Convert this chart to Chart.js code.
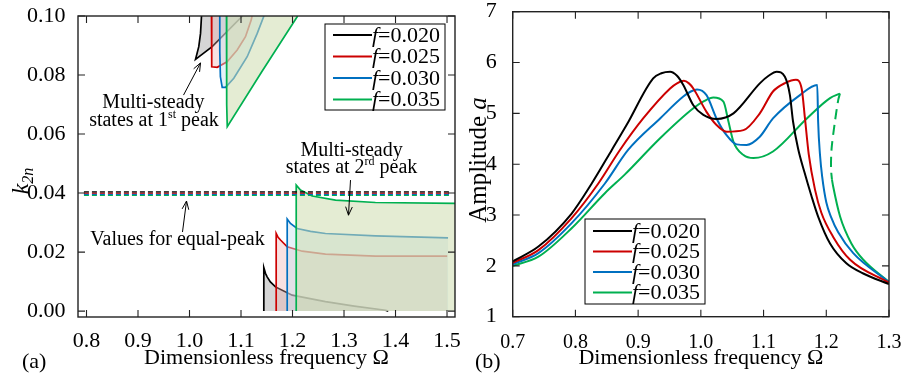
<!DOCTYPE html>
<html>
<head>
<meta charset="utf-8">
<script src="https://cdn.jsdelivr.net/npm/chart.js@4.4.1/dist/chart.umd.min.js"></script>
<style>
  html, body { margin: 0; padding: 0; background: #fff; }
  #wrap { position: relative; width: 902px; height: 380px; overflow: hidden; }
  #boxA { position: absolute; left: 0; top: 0; width: 470px; height: 380px; }
  #boxB { position: absolute; left: 460px; top: 0; width: 442px; height: 380px; }
</style>
</head>
<body>
<div id="wrap">
  <div id="boxA"><canvas id="chartA" width="470" height="380"></canvas></div>
  <div id="boxB"><canvas id="chartB" width="442" height="380"></canvas></div>
</div>
<script>
const fLabels = ["0.020", "0.025", "0.030", "0.035"];
const lineColors = ["#000000", "#cc0000", "#0070c0", "#00b050"];
const shadeColors = ["rgba(150,150,150,0.4)", "rgba(235,170,170,0.35)", "rgba(200,225,240,0.45)", "rgba(205,220,175,0.55)"];

// ---------- (a) k2n vs frequency ----------
const omegaTicksA = [0.8, 0.9, 1.0, 1.1, 1.2, 1.3, 1.4, 1.5];
const kTicks = [0.00, 0.02, 0.04, 0.06, 0.08, 0.10];

// multi-steady region at 1st peak: left edge down to the tip, then lower branch up to k=0.10
const p1Omega020 = [1.0233, 1.0214, 1.0180, 1.0117, 1.0440, 1.1030];
const p1K020     = [0.1000, 0.0941, 0.0896, 0.0853, 0.0896, 0.1000];
const p1Omega025 = [1.0427, 1.0428, 1.0435, 1.0538, 1.0730, 1.0926, 1.1087, 1.1198, 1.1215];
const p1K025     = [0.1000, 0.0850, 0.0828, 0.0826, 0.0845, 0.0885, 0.0930, 0.0986, 0.1000];
const p1Omega030 = [1.0588, 1.0588, 1.0600, 1.0635, 1.0700, 1.0860, 1.1120, 1.1315, 1.1445];
const p1K030     = [0.1000, 0.0880, 0.0794, 0.0758, 0.0758, 0.0789, 0.0862, 0.0941, 0.1000];
const p1Omega035 = [1.0718, 1.0722, 1.0733, 1.1400, 1.2100];
const p1K035     = [0.1000, 0.0700, 0.0625, 0.0810, 0.1000];

// multi-steady region at 2nd peak: vertical edge from k=0, then the upper branch
const p2Omega020 = [1.1443, 1.1443, 1.1475, 1.1508, 1.1570, 1.1670, 1.1994, 1.2640, 1.3200, 1.3806, 1.3860];
const p2K020     = [0.0000, 0.0147, 0.0128, 0.0116, 0.0099, 0.0082, 0.0054, 0.0032, 0.0017, 0.0003, 0.0000];
const p2Omega025 = [1.1683, 1.1683, 1.1720, 1.1767, 1.1897, 1.2188, 1.2640, 1.3610, 1.5004];
const p2K025     = [0.0000, 0.0263, 0.0250, 0.0241, 0.0218, 0.0203, 0.0193, 0.0186, 0.0186];
const p2Omega030 = [1.1897, 1.1897, 1.1960, 1.2090, 1.2350, 1.2640, 1.3610, 1.5020];
const p2K030     = [0.0000, 0.0312, 0.0297, 0.0280, 0.0270, 0.0263, 0.0255, 0.0248];
const p2Omega035 = [1.2072, 1.2072, 1.2155, 1.2382, 1.2835, 1.3610, 1.5155];
const p2K035     = [0.0000, 0.0427, 0.0410, 0.0390, 0.0376, 0.0368, 0.0365];

// equal-peak values (dashed)
const equalPeakOmega = [0.795, 1.505];
const equalPeakK = [0.0404, 0.0400, 0.0396, 0.0392];

// ---------- (b) amplitude vs frequency ----------
const omegaTicksB = [0.7, 0.8, 0.9, 1.0, 1.1, 1.2, 1.3];
const ampTicks = [1, 2, 3, 4, 5, 6, 7];

const omega020 = [0.70, 0.741, 0.794, 0.826, 0.858, 0.882, 0.924, 0.937, 0.951, 0.962, 0.972, 0.988, 1.004, 1.025, 1.052, 1.094, 1.108, 1.121, 1.134, 1.142, 1.147, 1.155, 1.165, 1.176, 1.187, 1.206, 1.232, 1.259, 1.300];
const amp020   = [2.09, 2.38, 3.03, 3.62, 4.28, 4.78, 5.69, 5.79, 5.82, 5.74, 5.56, 5.16, 4.97, 4.89, 5.00, 5.59, 5.74, 5.82, 5.72, 5.36, 4.84, 4.31, 3.85, 3.39, 2.97, 2.44, 2.05, 1.85, 1.64];
const omega025 = [0.70, 0.741, 0.794, 0.8365, 0.871, 0.908, 0.951, 0.962, 0.973, 0.981, 0.988, 1.009, 1.025, 1.041, 1.068, 1.094, 1.115, 1.135, 1.1516, 1.1607, 1.166, 1.172, 1.182, 1.192, 1.211, 1.238, 1.300];
const amp025   = [2.06, 2.31, 2.94, 3.62, 4.28, 4.90, 5.49, 5.59, 5.64, 5.59, 5.49, 5.03, 4.77, 4.64, 4.67, 5.00, 5.43, 5.60, 5.66, 5.49, 4.90, 4.20, 3.50, 3.05, 2.57, 2.12, 1.67];
const omega030 = [0.70, 0.741, 0.794, 0.847, 0.884, 0.935, 0.972, 0.984, 0.994, 1.009, 1.025, 1.041, 1.057, 1.073, 1.094, 1.115, 1.158, 1.1856, 1.187, 1.190, 1.1935, 1.200, 1.208, 1.219, 1.243, 1.300];
const amp030   = [2.03, 2.25, 2.84, 3.62, 4.28, 4.90, 5.33, 5.43, 5.47, 5.36, 4.90, 4.57, 4.39, 4.38, 4.54, 4.90, 5.36, 5.56, 4.84, 4.18, 3.75, 3.25, 2.95, 2.66, 2.25, 1.68];
const omega035 = [0.70, 0.741, 0.794, 0.847, 0.879, 0.935, 0.988, 1.005, 1.020, 1.036, 1.044, 1.052, 1.068, 1.084, 1.115, 1.169, 1.206, 1.2218];
const amp035   = [2.00, 2.18, 2.74, 3.43, 3.80, 4.51, 5.10, 5.24, 5.31, 5.23, 4.84, 4.44, 4.18, 4.12, 4.25, 4.90, 5.30, 5.39];
// unstable branch of f=0.035 (dashed) and the lower stable tail
const omega035Dash = [1.2218, 1.219, 1.2138, 1.2085, 1.2075, 1.209];
const amp035Dash   = [5.39, 5.26, 4.84, 4.31, 3.92, 3.70];
const omega035Tail = [1.209, 1.211, 1.222, 1.240, 1.259, 1.300];
const amp035Tail   = [3.70, 3.56, 2.97, 2.44, 2.12, 1.68];

const serif = '"Liberation Serif", "Times New Roman", serif';
Chart.defaults.font.family = serif;
Chart.defaults.color = '#000';

function pts(xs, ys) { return xs.map((x, i) => ({ x: x, y: ys[i] })); }

// text made of runs with different fonts
function runsWidth(ctx, runs) {
  let w = 0;
  runs.forEach(r => { ctx.font = r.font; w += ctx.measureText(r.text).width; });
  return w;
}
function drawRuns(ctx, x, y, runs) {
  runs.forEach(r => {
    ctx.font = r.font;
    ctx.fillText(r.text, x, y + (r.dy || 0));
    x += ctx.measureText(r.text).width;
  });
}
function drawRunsCentered(ctx, cx, y, runs) {
  drawRuns(ctx, cx - runsWidth(ctx, runs) / 2, y, runs);
}
function arrow(ctx, x1, y1, x2, y2) {
  const ang = Math.atan2(y2 - y1, x2 - x1), len = 9, spread = 0.38;
  ctx.beginPath();
  ctx.moveTo(x1, y1); ctx.lineTo(x2, y2);
  ctx.moveTo(x2 - len * Math.cos(ang - spread), y2 - len * Math.sin(ang - spread));
  ctx.lineTo(x2, y2);
  ctx.lineTo(x2 - len * Math.cos(ang + spread), y2 - len * Math.sin(ang + spread));
  ctx.stroke();
}

// frame with inward ticks on all four sides
const frameTicks = {
  id: 'frameTicks',
  afterDraw(chart) {
    const { ctx, chartArea: a } = chart;
    const x = chart.scales.x, y = chart.scales.y;
    ctx.save();
    ctx.strokeStyle = '#222';
    ctx.lineWidth = 1.4;
    ctx.strokeRect(a.left, a.top, a.right - a.left, a.bottom - a.top);
    ctx.lineWidth = 1.1;
    ctx.beginPath();
    x.ticks.forEach(t => {
      const px = x.getPixelForValue(t.value);
      ctx.moveTo(px, a.bottom); ctx.lineTo(px, a.bottom - 7);
      ctx.moveTo(px, a.top); ctx.lineTo(px, a.top + 7);
    });
    y.ticks.forEach(t => {
      const py = y.getPixelForValue(t.value);
      ctx.moveTo(a.left, py); ctx.lineTo(a.left + 7, py);
      ctx.moveTo(a.right, py); ctx.lineTo(a.right - 7, py);
    });
    ctx.stroke();
    ctx.restore();
  }
};

// boxed legend with line samples and italic f
const fLegend = {
  id: 'fLegend',
  afterDraw(chart, args, o) {
    const ctx = chart.ctx;
    ctx.save();
    ctx.fillStyle = '#fff';
    ctx.fillRect(o.left, o.top, o.width, o.height);
    ctx.strokeStyle = '#000';
    ctx.lineWidth = 1;
    ctx.strokeRect(o.left, o.top, o.width, o.height);
    fLabels.forEach((lab, i) => {
      const ry = o.top + o.rowTop + i * o.rowGap;
      ctx.strokeStyle = lineColors[i];
      ctx.lineWidth = 2;
      ctx.beginPath();
      ctx.moveTo(o.left + 8, ry); ctx.lineTo(o.left + 47, ry);
      ctx.stroke();
      ctx.fillStyle = '#000';
      ctx.textBaseline = 'middle';
      drawRuns(ctx, o.left + 47, ry + 1, [
        { text: 'f', font: 'italic 22px ' + serif },
        { text: '=' + lab, font: '22px ' + serif }
      ]);
    });
    ctx.restore();
  }
};

// y titles, panel letters and annotations
const decorA = {
  id: 'decorA',
  afterDraw(chart) {
    const ctx = chart.ctx, x = chart.scales.x, y = chart.scales.y;
    const X = v => x.getPixelForValue(v), Y = v => y.getPixelForValue(v);
    ctx.save();
    ctx.fillStyle = '#000';
    ctx.strokeStyle = '#000';
    ctx.textBaseline = 'alphabetic';
    // y title k_2n
    ctx.save();
    ctx.translate(28, 181);
    ctx.rotate(-Math.PI / 2);
    drawRunsCentered(ctx, 0, 0, [
      { text: 'k', font: 'italic 24px ' + serif },
      { text: '2n', font: 'italic 16px ' + serif, dy: 5 }
    ]);
    ctx.restore();
    ctx.font = '22px ' + serif;
    ctx.fillText('(a)', 22, 368);

    const f20 = '20px ' + serif, sup = '12px ' + serif;
    drawRunsCentered(ctx, X(0.930), Y(0.0688), [{ text: 'Multi-steady', font: f20 }]);
    drawRunsCentered(ctx, X(0.931), Y(0.0627), [
      { text: 'states at 1', font: f20 }, { text: 'st', font: sup, dy: -8 }, { text: ' peak', font: f20 }
    ]);
    drawRunsCentered(ctx, X(1.3146), Y(0.0525), [{ text: 'Multi-steady', font: f20 }]);
    drawRunsCentered(ctx, X(1.3146), Y(0.0468), [
      { text: 'states at 2', font: f20 }, { text: 'rd', font: sup, dy: -8 }, { text: ' peak', font: f20 }
    ]);
    drawRunsCentered(ctx, X(0.9767), Y(0.0224), [{ text: 'Values for equal-peak', font: f20 }]);
    ctx.lineWidth = 1;
    arrow(ctx, X(0.9884), Y(0.0732), X(1.0214), Y(0.0841));
    arrow(ctx, X(1.3126), Y(0.0444), X(1.3087), Y(0.0325));
    arrow(ctx, X(0.9864), Y(0.0268), X(0.9942), Y(0.0373));
    ctx.restore();
  }
};

const decorB = {
  id: 'decorB',
  afterDraw(chart) {
    const ctx = chart.ctx;
    ctx.save();
    ctx.fillStyle = '#000';
    ctx.textBaseline = 'alphabetic';
    ctx.save();
    ctx.translate(26, 160);
    ctx.rotate(-Math.PI / 2);
    drawRunsCentered(ctx, 0, 0, [
      { text: 'Amplitude ', font: '25px ' + serif },
      { text: 'a', font: 'italic 25px ' + serif }
    ]);
    ctx.restore();
    ctx.font = '22px ' + serif;
    ctx.fillText('(b)', 15, 368);
    ctx.restore();
  }
};

// ---------- datasets (a) ----------
const p1Omega = [p1Omega020, p1Omega025, p1Omega030, p1Omega035];
const p1K = [p1K020, p1K025, p1K030, p1K035];
const p2Omega = [p2Omega020, p2Omega025, p2Omega030, p2Omega035];
const p2K = [p2K020, p2K025, p2K030, p2K035];

const dsA = [];
equalPeakK.forEach((k, i) => {
  dsA.push({
    data: pts(equalPeakOmega, [k, k]), borderColor: lineColors[i], borderWidth: 1.3,
    borderDash: [5, 3], pointRadius: 0, fill: false, order: 0
  });
});
[0, 1, 2, 3].forEach(i => {
  const base = 4 - i;
  const top = pts(p1Omega[i], p1K[i]);
  const bottom = pts(p2Omega[i], p2K[i]);
  const n = p2Omega[i].length;
  // shaded areas (closed shapes; the top one is closed above the plot area)
  dsA.push({
    data: [{ x: 0.7, y: 0.12 }].concat(top, [{ x: 1.6, y: 0.12 }]),
    backgroundColor: shadeColors[i], borderColor: 'rgba(0,0,0,0)', borderWidth: 0,
    pointRadius: 0, fill: 'shape', order: base + 0.5
  });
  dsA.push({
    data: bottom.concat([{ x: p2Omega[i][n - 1], y: 0 }]),
    backgroundColor: shadeColors[i], borderColor: 'rgba(0,0,0,0)', borderWidth: 0,
    pointRadius: 0, fill: 'shape', order: base + 0.5
  });
  // boundary lines
  dsA.push({ data: top, borderColor: lineColors[i], borderWidth: 1.7, pointRadius: 0, fill: false, order: base });
  dsA.push({ data: bottom, borderColor: lineColors[i], borderWidth: 1.7, pointRadius: 0, fill: false, order: base });
});

new Chart(document.getElementById('chartA'), {
  type: 'line',
  data: { datasets: dsA },
  options: {
    responsive: false,
    animation: false,
    events: [],
    elements: { line: { tension: 0 } },
    layout: { padding: { left: 0, right: 15, top: 16, bottom: 0 } },
    plugins: {
      legend: { display: false },
      tooltip: { enabled: false },
      fLegend: { left: 325, top: 24, width: 120, height: 86, rowTop: 11, rowGap: 21.5 }
    },
    scales: {
      x: {
        type: 'linear', min: 0.7835, max: 1.5155,
        afterBuildTicks: s => { s.ticks = omegaTicksA.map(v => ({ value: v })); },
        afterFit: s => { s.height = 63; s.paddingLeft = 0; s.paddingRight = 0; },
        grid: { display: false }, border: { display: false },
        ticks: { autoSkip: false, maxRotation: 0, padding: 3, font: { size: 22 }, callback: v => v.toFixed(1) },
        title: { display: true, text: 'Dimensionless frequency Ω', font: { size: 22 }, padding: { top: 0, bottom: 9 } }
      },
      y: {
        type: 'linear', min: -0.002, max: 0.1,
        afterBuildTicks: s => { s.ticks = kTicks.map(v => ({ value: v })); },
        afterFit: s => { s.width = 78; s.paddingTop = 0; s.paddingBottom = 0; },
        grid: { display: false }, border: { display: false },
        ticks: { autoSkip: false, padding: 4.5, font: { size: 22 }, callback: v => v.toFixed(2) }
      }
    }
  },
  plugins: [frameTicks, fLegend, decorA]
});

// ---------- datasets (b) ----------
const omegaB = [omega020, omega025, omega030, omega035];
const ampB = [amp020, amp025, amp030, amp035];
const dsB = [];
[0, 1, 2, 3].forEach(i => {
  dsB.push({
    data: pts(omegaB[i], ampB[i]), borderColor: lineColors[i], borderWidth: 2,
    pointRadius: 0, fill: false, cubicInterpolationMode: 'monotone'
  });
});
dsB.push({
  data: pts(omega035Dash, amp035Dash), borderColor: lineColors[3], borderWidth: 2,
  borderDash: [10, 6], pointRadius: 0, fill: false, tension: 0.3
});
dsB.push({
  data: pts(omega035Tail, amp035Tail), borderColor: lineColors[3], borderWidth: 2,
  pointRadius: 0, fill: false, cubicInterpolationMode: 'monotone'
});

new Chart(document.getElementById('chartB'), {
  type: 'line',
  data: { datasets: dsB },
  options: {
    responsive: false,
    animation: false,
    events: [],
    layout: { padding: { left: 0, right: 13, top: 11.7, bottom: 0 } },
    plugins: {
      legend: { display: false },
      tooltip: { enabled: false },
      fLegend: { left: 125, top: 219, width: 120, height: 85, rowTop: 12, rowGap: 20.5 }
    },
    scales: {
      x: {
        type: 'linear', min: 0.7, max: 1.3,
        afterBuildTicks: s => { s.ticks = omegaTicksB.map(v => ({ value: v })); },
        afterFit: s => { s.height = 63.3; s.paddingLeft = 0; s.paddingRight = 0; },
        grid: { display: false }, border: { display: false },
        ticks: { autoSkip: false, maxRotation: 0, padding: 6, font: { size: 20 }, callback: v => v.toFixed(1) },
        title: { display: true, text: 'Dimensionless frequency Ω', font: { size: 22 }, padding: { top: 0, bottom: 9 } }
      },
      y: {
        type: 'linear', min: 1, max: 7,
        afterBuildTicks: s => { s.ticks = ampTicks.map(v => ({ value: v })); },
        afterFit: s => { s.width = 52.7; s.paddingTop = 0; s.paddingBottom = 0; },
        grid: { display: false }, border: { display: false },
        ticks: { autoSkip: false, padding: 8, font: { size: 22 }, callback: v => String(v) }
      }
    }
  },
  plugins: [frameTicks, fLegend, decorB]
});
</script>
</body>
</html>
